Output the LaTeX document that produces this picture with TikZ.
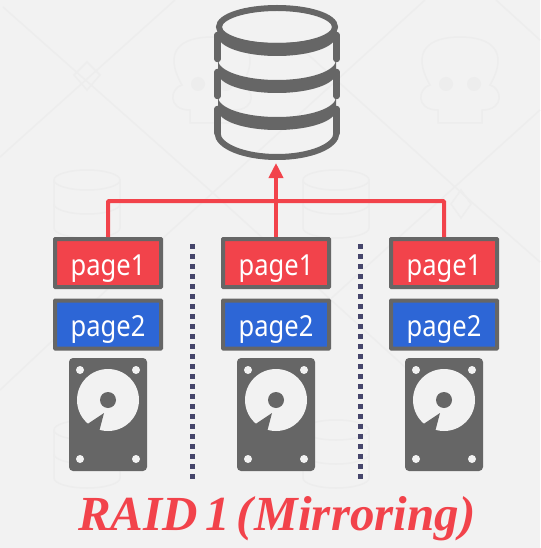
\documentclass[tikz,border=0pt]{standalone}
\usepackage{fontspec}
\setmainfont{Liberation Serif}
\setsansfont{Noto Sans}
\usepackage{tikz}
\usetikzlibrary{arrows.meta}

\definecolor{bgpaper}{HTML}{F2F2F2}
\definecolor{markgray}{HTML}{EDEDED}
\definecolor{steelgray}{HTML}{666666}
\definecolor{pagered}{HTML}{F2434B}
\definecolor{pageblue}{HTML}{2D66D6}
\definecolor{dotnavy}{HTML}{45456B}

\begin{document}
\begin{tikzpicture}[x=1pt, y=-1pt, >={Triangle[width=14pt, length=16pt]},
    pagebox/.style={draw=steelgray, line width=4pt, rounded corners=0.5pt, text=white, font=\sffamily\fontsize{29}{32}\selectfont,
        minimum width=106pt, minimum height=48pt, inner sep=0pt, text height=24pt, text depth=0pt},
    faint/.style={draw=markgray, line width=1.5pt},
    wire/.style={draw=pagered, line width=4pt},
    divider/.style={draw=dotnavy, line width=5pt, dash pattern=on 5pt off 5pt}]
    \useasboundingbox (0,0) rectangle (540,548);
    \fill[bgpaper] (0,0) rectangle (540,548);

    % Faint backdrop
    \draw[faint] (3,7) -- (213,193) -- (480,435);
    \draw[faint] (175,0) -- (0,157);
    \draw[faint] (425,0) -- (130,268) -- (0,390);
    \draw[faint] (303,50) -- (475,205) -- (540,262);
    \draw[faint] (496,0) -- (540,40);
    \draw[faint] (540,110) -- (305,322);
    \draw[faint] (87,62) -- (100,75) -- (87,90) -- (74,75) -- cycle;
    \draw[faint] (461,190) -- (471,204) -- (461,218) -- (451,204) -- cycle;
    \foreach \skullx in {212,460} {
        \draw[faint] (\skullx-22,123) -- (\skullx-22,110) .. controls (\skullx-45,110) and (\skullx-42,88) .. (\skullx-30,85)
            .. controls (\skullx-50,50) and (\skullx-30,37) .. (\skullx,37)
            .. controls (\skullx+30,37) and (\skullx+50,50) .. (\skullx+30,85)
            .. controls (\skullx+42,88) and (\skullx+45,110) .. (\skullx+22,110) -- (\skullx+22,123) -- cycle;
        \fill[markgray] (\skullx-14,84) circle (7);
        \fill[markgray] (\skullx+14,84) circle (7);
    }
    \foreach \drumx/\drumy in {87/168, 336/168, 87/418, 336/418} {
        \draw[faint] (\drumx-33,\drumy+12) arc [start angle=180, end angle=360, x radius=33, y radius=10] -- (\drumx+33,\drumy+60)
            arc [start angle=0, end angle=180, x radius=33, y radius=10] -- cycle;
        \draw[faint] (\drumx-33,\drumy+12) arc [start angle=180, end angle=0, x radius=33, y radius=10];
        \draw[faint] (\drumx-33,\drumy+36) arc [start angle=180, end angle=0, x radius=33, y radius=10];
    }

    % Database
    \draw[steelgray, line width=6pt] (277,27) ellipse [x radius=58, y radius=19];
    \fill[steelgray] (218,27) arc [start angle=180, end angle=0, x radius=59, y radius=16]
        -- (336,36) arc [start angle=0, end angle=180, x radius=59, y radius=20] -- cycle;
    \foreach \bandy in {60,97} {
        \fill[steelgray] (218,\bandy) arc [start angle=180, end angle=0, x radius=59, y radius=20]
            -- (336,\bandy+13) arc [start angle=0, end angle=180, x radius=59, y radius=20] -- cycle;
    }
    \foreach \wally in {35,72,109} {
        \draw[steelgray, line width=6.5pt, line cap=round] (217.5,\wally) -- (217.5,\wally+24);
        \draw[steelgray, line width=6.5pt, line cap=round] (336.5,\wally) -- (336.5,\wally+24);
    }
    \draw[steelgray, line width=6pt] (217.5,133) arc [start angle=180, end angle=0, x radius=59.5, y radius=24];
    \coordinate (dbfoot) at (276,163);

    % Disks with their pages
    \foreach \name/\x in {a/108, b/276, c/444} {
        \node[pagebox, fill=pagered] (top\name) at (\x,263) {\scalebox{0.88}[1]{page1}};
        \node[pagebox, fill=pageblue] (low\name) at (\x,324.5) {\scalebox{0.88}[1]{page2}};
        \fill[steelgray, rounded corners=4pt] (\x-39,358) rectangle (\x+39,471);
        \fill[bgpaper] (\x,400) circle (31);
        \fill[steelgray] (\x,400) circle (8);
        \fill[steelgray] (\x-22,425) -- (\x-4,413) -- (\x-9,432) -- cycle;
        \foreach \hx/\hy in {-28/370, 28/370, -28/459, 28/459}
            \fill[bgpaper] (\x+\hx,\hy) circle (4);
    }

    % Wires
    \coordinate (bus) at (276,201);
    \draw[wire, rounded corners=1pt] (topa.north) |- (bus) -| (topc.north);
    \draw[wire, ->, >={Triangle[width=14pt, length=15pt]}, color=pagered] (topb.north) -- (dbfoot);

    % Dividers
    \coordinate (dotatop) at (192,244);
    \coordinate (dotalow) at (192,483);
    \coordinate (dotbtop) at (360,244);
    \coordinate (dotblow) at (360,483);
    \draw[divider] (dotatop) -- (dotalow);
    \draw[divider] (dotbtop) -- (dotblow);

    % Title
    \node[anchor=base west, inner sep=0pt, text=pagered, font=\bfseries\itshape\fontsize{49}{54}\selectfont] (title) at (78,530)
        {RAID\hspace{8pt}1\hspace{6pt}(\hspace{2pt}Mirroring)};
\end{tikzpicture}
\end{document}
